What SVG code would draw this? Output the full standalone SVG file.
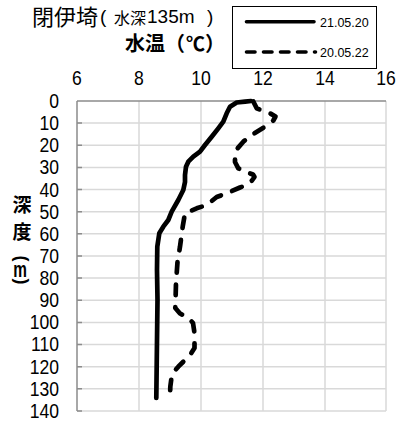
<svg xmlns="http://www.w3.org/2000/svg" width="396" height="424" viewBox="0 0 396 424">
<style>
.num{font-family:"Liberation Sans",Arial,sans-serif;font-size:19.5px;fill:#000}
.cjk{font-family:"Noto Sans CJK JP","Noto Sans CJK SC",sans-serif;fill:#000}
.lat{font-family:"Liberation Sans",Arial,sans-serif;fill:#000}
.b{font-weight:bold}
.grid{stroke:#d9d9d9;stroke-width:1.5;fill:none}
.axis{stroke:#8c8c8c;stroke-width:1.5;fill:none}
.s1{stroke:#000;stroke-width:4.7;fill:none;stroke-linejoin:round;stroke-linecap:round}
.s2{stroke:#000;stroke-width:4.7;fill:none;stroke-linejoin:round;stroke-linecap:round;stroke-dasharray:10.5 12}
.leg{font-family:"Liberation Sans",Arial,sans-serif;font-size:12.5px;fill:#000}
</style>
<rect width="396" height="424" fill="#fff"/>
<g id="title">
<text class="cjk" x="32" y="25" font-size="22">閉伊埼</text>
<text class="lat" x="100" y="23" font-size="19">(</text>
<text class="cjk" x="114" y="24" font-size="16">水深</text>
<text class="lat" x="147" y="23" font-size="19">135m</text>
<text class="lat" x="207" y="23" font-size="19">)</text>
</g>
<g id="x-title">
<text class="cjk b" x="125" y="51" font-size="20">水温</text>
<text class="cjk b" x="165" y="51" font-size="20">（</text>
<text class="cjk b" x="186" y="51" font-size="19">℃</text>
<text class="cjk b" x="205" y="51" font-size="20">）</text>
</g>
<g id="y-title">
<text class="cjk b" x="22" y="212" font-size="19" text-anchor="middle">深</text>
<text class="cjk b" x="22" y="239" font-size="19" text-anchor="middle">度</text>
<text class="lat b" font-size="18" text-anchor="middle" transform="translate(15.5,258.5) rotate(90)">(</text>
<text class="lat b" font-size="22" text-anchor="middle" transform="translate(20,277) scale(0.7,1)">m</text>
<text class="lat b" font-size="18" text-anchor="middle" transform="translate(15.5,281.5) rotate(90)">)</text>
</g>
<g id="grid">
<path class="grid" d="M139 101V411M201 101V411M263 101V411M325 101V411M386 101V411"/>
<path class="grid" d="M77 123.1H386M77 145.3H386M77 167.4H386M77 189.6H386M77 211.7H386M77 233.8H386M77 256H386M77 278.1H386M77 300.3H386M77 322.4H386M77 344.5H386M77 366.7H386M77 388.8H386M77 411H386"/>
<path class="axis" d="M77 101H386M77 101V411"/>
<path class="axis" d="M77 123.1h5M77 145.3h5M77 167.4h5M77 189.6h5M77 211.7h5M77 233.8h5M77 256h5M77 278.1h5M77 300.3h5M77 322.4h5M77 344.5h5M77 366.7h5M77 388.8h5M77 411h5"/>
</g>
<g id="x-labels" class="num" text-anchor="middle">
<text transform="translate(77,85) scale(0.9,1)">6</text>
<text transform="translate(139,85) scale(0.9,1)">8</text>
<text transform="translate(201,85) scale(0.9,1)">10</text>
<text transform="translate(263,85) scale(0.9,1)">12</text>
<text transform="translate(325,85) scale(0.9,1)">14</text>
<text transform="translate(386,85) scale(0.9,1)">16</text>
</g>
<g id="y-labels" class="num" text-anchor="end" transform="translate(59,0) scale(0.9,1)">
<text y="108">0</text>
<text y="130.1">10</text>
<text y="152.3">20</text>
<text y="174.4">30</text>
<text y="196.6">40</text>
<text y="218.7">50</text>
<text y="240.8">60</text>
<text y="263">70</text>
<text y="285.1">80</text>
<text y="307.3">90</text>
<text y="329.4">100</text>
<text y="351.5">110</text>
<text y="373.7">120</text>
<text y="395.8">130</text>
<text y="418">140</text>
</g>
<g id="series">
<polyline id="s-210520" class="s1" points="251,101 245,101.7 236.7,102.5 230,106.7 226.7,113.3 223.3,121.7 218.3,128.3 211.7,136.7 205,145 200,151.7 193.3,156.7 188.3,161.7 186,166.7 185,175 185,182 183.3,190 178.3,200 171.7,211.7 168.3,220 163.3,226.7 159.3,233.3 157.3,246.7 157,270 157.5,300 156.3,398"/>
<polyline id="s-200522" class="s2" points="253.3,101.5 256.7,108.3 262,110.5 270,113.3 275.5,116.5 273.3,120.5 265,126.7 253.3,134 243.3,141.7 237,149 235,156 235,162 238.3,168.3 246.7,172.3 253,174.5 254.5,177 252,180.5 246.7,185 240,187.5 226.7,193.3 216.7,197 206.7,205 196.7,208.3 185,213.3 182.7,226.7 180,246.7 177.5,262 176,283 175.3,308 180,313.5 188,317.5 193,323 194.5,333 194.5,348 190,355 186.7,358.3 178.3,366.7 172,374 170.3,386.7 170,399"/>
</g>
<g id="legend">
<rect x="232.5" y="6.5" width="144" height="62" fill="#fff" stroke="#000" stroke-width="1"/>
<line x1="246.5" y1="21.7" x2="314" y2="21.7" stroke="#000" stroke-width="3.6" stroke-linecap="round"/>
<text class="leg" x="320" y="26.5">21.05.20</text>
<line x1="246.5" y1="52" x2="315.5" y2="52" stroke="#000" stroke-width="3.6" stroke-linecap="round" stroke-dasharray="8.5 8.5"/>
<text class="leg" x="320" y="57">20.05.22</text>
</g>
</svg>
